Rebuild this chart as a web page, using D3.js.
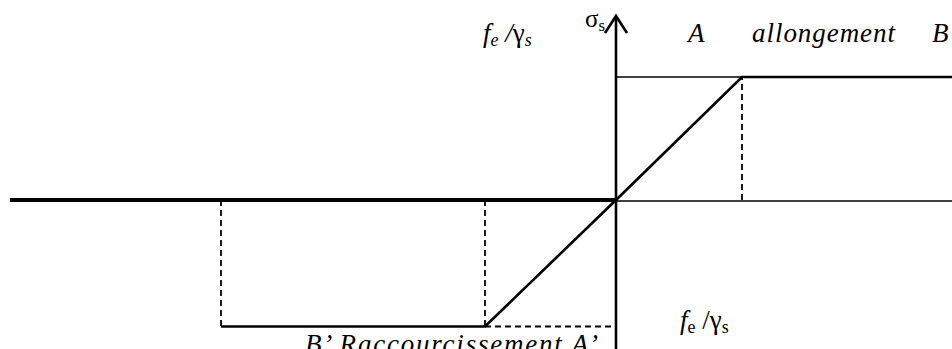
<!DOCTYPE html>
<html>
<script src="https://d3js.org/d3.v7.min.js"></script>
<style>
    body {
        margin: 0;
        background: #fff;
    }
</style>

<body>
</body>
<script>
    const width = 952,
        height = 349;

    // strain in units of the elastic limit (fe / gamma_s / Es), stress in units of fe / gamma_s
    const tensionBranch = [{e: 0, s: 0}, {e: 1, s: 1}, {e: 2.7, s: 1}];
    const compressionBranch = [{e: 0, s: 0}, {e: -1, s: -1}, {e: -3, s: -1}];
    const dashedGuides = [
        [{e: 1, s: 0}, {e: 1, s: 1}],
        [{e: 1, s: 1}, {e: 2.7, s: 1}],
        [{e: -1, s: 0}, {e: -1, s: -1}],
        [{e: -3, s: 0}, {e: -3, s: -1}],
        [{e: -1, s: -1}, {e: 0, s: -1}]
    ];
    const yieldLineTop = [{e: 0, s: 1}, {e: 1, s: 1}];
    const strainAxisLeft = [{e: -4.6, s: 0}, {e: 0, s: 0}];
    const strainAxisRight = [{e: -3.3, s: 0}, {e: 2.7, s: 0}];

    const serif = "Liberation Serif";

    const svg = d3.select("body").append("svg").attr("width", width).attr("height", height);

    const x = d3.scaleLinear()
        .domain([-4.6, -3, -1, 0, 1, 2.7])
        .range([10, 221, 485, 616, 742, 956]);
    const y = d3.scaleLinear()
        .domain([-1, 0, 1])
        .range([326.5, 200, 77]);

    const line = d3.line()
        .x(d => x(d.e))
        .y(d => y(d.s));

    // strain axis
    svg.append("path")
        .attr("fill", "none")
        .attr("stroke", "black")
        .attr("stroke-width", 1.6)
        .attr("transform", "translate(0,1)")
        .attr("d", line(strainAxisRight));
    svg.append("path")
        .attr("fill", "none")
        .attr("stroke", "black")
        .attr("stroke-width", 4)
        .attr("d", line(strainAxisLeft));

    // thin line fe/gs at the top
    svg.append("path")
        .attr("fill", "none")
        .attr("stroke", "black")
        .attr("stroke-width", 1.3)
        .attr("d", line(yieldLineTop));

    // dashed guides
    svg.selectAll(".guide")
        .data(dashedGuides)
        .join("path")
        .attr("class", "guide")
        .attr("fill", "none")
        .attr("stroke", "black")
        .attr("stroke-width", 1.8)
        .attr("stroke-dasharray", "6,4")
        .attr("d", d => line(d));

    // stress axis with arrow
    const x0 = x(0);
    svg.append("line")
        .attr("x1", x0).attr("x2", x0)
        .attr("y1", height).attr("y2", 17)
        .attr("stroke", "black")
        .attr("stroke-width", 2.6);
    svg.append("path")
        .attr("fill", "none")
        .attr("stroke", "black")
        .attr("stroke-width", 2.6)
        .attr("d", `M${x0 - 11},${33}L${x0},${16}L${x0 + 11},${33}`);

    // stress-strain law
    svg.selectAll(".branch")
        .data([tensionBranch, compressionBranch])
        .join("path")
        .attr("class", "branch")
        .attr("fill", "none")
        .attr("stroke", "black")
        .attr("stroke-width", 2.6)
        .attr("stroke-linejoin", "miter")
        .attr("d", d => line(d));

    // labels
    const label = (xp, yp, size) => svg.append("text")
        .attr("x", xp).attr("y", yp)
        .attr("font-family", serif)
        .attr("font-size", size)
        .attr("fill", "black");

    const t1 = label(483, 42, 27).attr("font-style", "italic");
    t1.append("tspan").text("f");
    t1.append("tspan").attr("font-size", 18).attr("dy", 4).text("e");
    t1.append("tspan").attr("dy", -4).text(" /");
    t1.append("tspan").attr("font-style", "normal").text("γ");
    t1.append("tspan").attr("font-size", 18).attr("dy", 4).text("s");

    const sig = label(585, 27, 25);
    sig.append("tspan").text("σ");
    sig.append("tspan").attr("font-size", 17).attr("dy", 4).text("s");

    label(688, 42, 27).attr("font-style", "italic").text("A");
    label(752, 42, 27).attr("font-style", "italic").attr("textLength", 143).text("allongement");
    label(932, 42, 27).attr("font-style", "italic").text("B");

    const t2 = label(680, 329, 27);
    t2.append("tspan").attr("font-style", "italic").text("f");
    t2.append("tspan").attr("font-size", 18).attr("dy", 4).text("e");
    t2.append("tspan").attr("dy", -4).text(" /γ");
    t2.append("tspan").attr("font-size", 18).attr("dy", 4).text("s");

    label(305, 353, 27).attr("font-style", "italic").attr("textLength", 293)
        .text("B’  Raccourcissement  A’");
</script>

</html>
